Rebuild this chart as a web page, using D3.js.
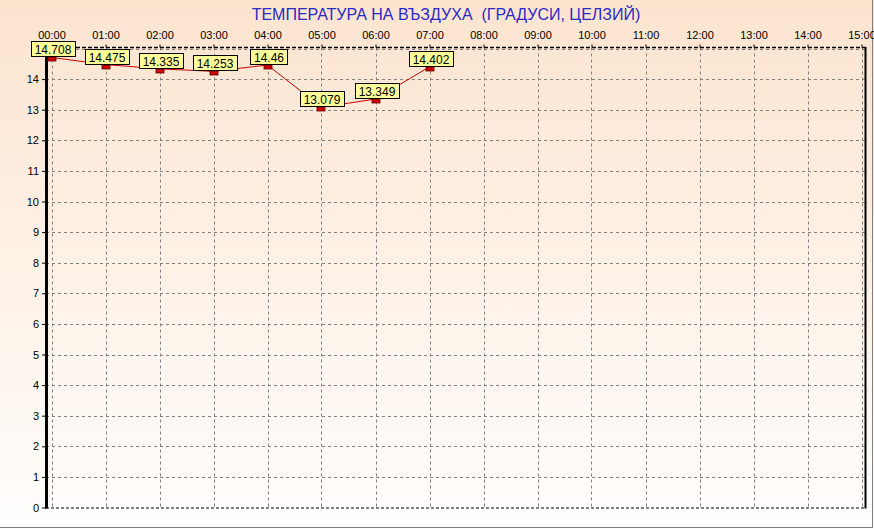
<!DOCTYPE html>
<html>
<head>
<meta charset="utf-8">
<script src="https://cdn.jsdelivr.net/npm/d3@7"></script>
<style>
  html, body { margin: 0; padding: 0; background: #ffffff; }
  svg { display: block; }
</style>
</head>
<body>
<svg id="chart" width="874" height="529"></svg>
<script>
const title = "ТЕМПЕРАТУРА НА ВЪЗДУХА  (ГРАДУСИ, ЦЕЛЗИЙ)";
const hours = [0, 1, 2, 3, 4, 5, 6, 7];
const temperatures = [14.708, 14.475, 14.335, 14.253, 14.46, 13.079, 13.349, 14.402];
const xTickLabels = ["00:00","01:00","02:00","03:00","04:00","05:00","06:00","07:00",
                     "08:00","09:00","10:00","11:00","12:00","13:00","14:00","15:00"];
const yTicks = [0,1,2,3,4,5,6,7,8,9,10,11,12,13,14];

(function () {
const svg = d3.select("#chart");
const W = 874, H = 529;

const defs = svg.append("defs");
const grad = defs.append("linearGradient").attr("id", "bg").attr("x1", 0).attr("y1", 0).attr("x2", 0).attr("y2", 1);
grad.append("stop").attr("offset", "0%").attr("stop-color", "#fce4cf");
grad.append("stop").attr("offset", "100%").attr("stop-color", "#fffefd");

svg.append("rect").attr("x", 0).attr("y", 0).attr("width", W).attr("height", H).attr("fill", "url(#bg)");

// outer sunken frame
svg.append("line").attr("x1", 872.5).attr("x2", 872.5).attr("y1", 0).attr("y2", 528).attr("stroke", "#808080");
svg.append("line").attr("x1", 0).attr("x2", 873).attr("y1", 527.5).attr("y2", 527.5).attr("stroke", "#808080");

const x = d3.scaleLinear().domain([0, 15]).range([51.5, 861.5]);
const y = d3.scaleLinear().domain([0, 15]).range([507.5, 48.5]);

const pLeft = 46, pRight = 865, pTop = 47.5, pBottom = 507.5;

// grid
const grid = svg.append("g");
grid.selectAll("line.h").data(d3.range(1, 16)).join("line")
  .attr("x1", pLeft).attr("x2", pRight)
  .attr("y1", d => Math.round(y(d)) + 0.5).attr("y2", d => Math.round(y(d)) + 0.5)
  .attr("stroke", "#808080").attr("stroke-dasharray", "3,3");
grid.selectAll("line.v").data(d3.range(0, 16)).join("line")
  .attr("x1", d => Math.round(x(d)) + 0.5).attr("x2", d => Math.round(x(d)) + 0.5)
  .attr("y1", pTop).attr("y2", pBottom)
  .attr("stroke", "#808080").attr("stroke-dasharray", "3,3");

// frame lines
svg.append("line").attr("x1", pLeft).attr("x2", pRight + 1).attr("y1", pTop).attr("y2", pTop)
  .attr("stroke", "#000").attr("stroke-width", 1.5).attr("stroke-dasharray", "4,2");
svg.append("line").attr("x1", pLeft).attr("x2", pRight + 1).attr("y1", pBottom + 0.5).attr("y2", pBottom + 0.5)
  .attr("stroke", "#000").attr("stroke-dasharray", "3,2");
svg.append("line").attr("x1", pRight + 0.5).attr("x2", pRight + 0.5).attr("y1", pTop - 0.5).attr("y2", pBottom + 1)
  .attr("stroke", "#000").attr("stroke-width", 2);

// y axis
const yAxis = d3.axisLeft(y).tickValues(yTicks).tickSize(4).tickPadding(3).tickFormat(d3.format("d"));
const yg = svg.append("g").attr("transform", `translate(${pLeft},0)`).call(yAxis);
yg.select(".domain").remove();
yg.selectAll(".tick line").attr("stroke", "#000");
yg.selectAll("text").attr("font-family", "Liberation Sans, Arial, sans-serif").attr("font-size", 11).attr("fill", "#000");
svg.append("line").attr("x1", pLeft + 0.5).attr("x2", pLeft + 0.5).attr("y1", pTop - 1).attr("y2", pBottom + 1)
  .attr("stroke", "#000").attr("stroke-width", 3);

// x axis (top)
const xAxis = d3.axisTop(x).tickValues(d3.range(0, 16)).tickSize(3).tickPadding(6)
  .tickFormat((d, i) => xTickLabels[i]);
const xg = svg.append("g").attr("transform", `translate(0,${pTop})`).call(xAxis);
xg.select(".domain").remove();
xg.selectAll(".tick line").attr("stroke", "#000");
xg.selectAll("text").attr("font-family", "Liberation Sans, Arial, sans-serif").attr("font-size", 11).attr("fill", "#000");

// title
svg.append("text").attr("x", 446).attr("y", 20).attr("text-anchor", "middle")
  .attr("font-family", "Liberation Sans, Arial, sans-serif").attr("font-size", 16)
  .attr("fill", "#2a2ac8").style("white-space", "pre").text(title);

// data
const data = hours.map((h, i) => ({ h, v: temperatures[i] }));

svg.append("path").datum(data)
  .attr("fill", "none").attr("stroke", "#d00000").attr("stroke-width", 1)
  .attr("d", d3.line().x(d => x(d.h)).y(d => y(d.v)));

svg.selectAll("rect.marker").data(data).join("rect")
  .attr("class", "marker")
  .attr("x", d => Math.round(x(d.h)) - 4).attr("y", d => Math.round(y(d.v)))
  .attr("width", 8).attr("height", 4)
  .attr("fill", "#d00000").attr("stroke", "#600000").attr("stroke-width", 0.8);

const labels = svg.selectAll("g.lbl").data(data).join("g").attr("class", "lbl");
labels.each(function(d) {
  const g = d3.select(this);
  const t = g.append("text")
    .attr("x", Math.round(x(d.h)) + 1).attr("y", Math.round(y(d.v)) - 3)
    .attr("text-anchor", "middle")
    .attr("font-family", "Liberation Sans, Arial, sans-serif").attr("font-size", 12)
    .attr("fill", "#000").text(String(d.v));
  const bb = t.node().getBBox();
  g.insert("rect", "text")
    .attr("x", Math.round(bb.x - 4) + 0.5).attr("y", Math.round(y(d.v)) - 15.5)
    .attr("width", Math.round(bb.width + 7)).attr("height", 15)
    .attr("fill", "#ffff99").attr("stroke", "#000");
});
})();
</script>
</body>
</html>
